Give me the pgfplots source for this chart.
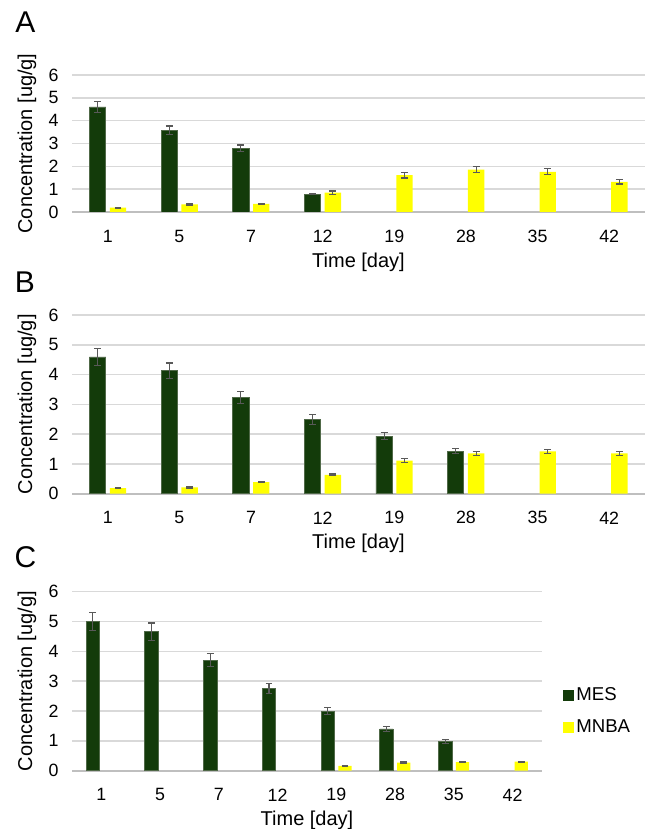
\documentclass[border=0pt]{standalone}
\usepackage{pgfplots}
\pgfplotsset{compat=1.18}
\usepackage{fontspec}
\setmainfont{Liberation Sans}
\definecolor{mesgreen}{RGB}{19,59,10}
\definecolor{mesedge}{RGB}{80,105,72}
\definecolor{mnbayellow}{RGB}{255,255,0}
\definecolor{gridgray}{RGB}{217,217,217}
\definecolor{axisgray}{RGB}{191,191,191}
\definecolor{errgray}{RGB}{89,89,89}
\pgfplotsset{
  panel/.style={
    scale only axis,
    anchor=south west,
    /pgf/number format/assume math mode=true,
    xmin=-0.5, xmax=7.5, ymin=0, ymax=6,
    ytick={0,1,2,3,4,5,6},
    xtick={0,1,2,3,4,5,6,7},
    xticklabels={1,5,7,12,19,28,35,42},
    axis line style={draw=none},
    tick style={draw=none},
    ymajorgrids,
    grid style={gridgray, line width=0.75pt},
    extra y ticks={0},
    extra y tick labels={},
    extra y tick style={grid style={axisgray, line width=1pt}},
    tick label style={font=\fontsize{8.9}{10}\selectfont},
    yticklabel style={anchor=east, inner sep=0pt, xshift=-6.5pt},
    xticklabel style={anchor=center, inner sep=0pt, yshift=-7.8pt},
    ylabel={Concentration [ug/g]},
    xlabel={Time [day]},
    label style={font=\fontsize{9.7}{11}\selectfont},
    every axis x label/.style={at={([yshift=-25pt]rel axis cs:0.5,0)}, anchor=center},
    ybar,
    error bars/error bar style={errgray, line width=0.6pt},
    error bars/error mark options={rotate=90, mark size=1.7pt, errgray, line width=0.6pt},
  },
  mes/.style={fill=mesgreen, draw=mesedge, line width=0.4pt,
    error bars/y dir=both, error bars/y explicit},
  mnba/.style={fill=mnbayellow, draw=none,
    error bars/y dir=both, error bars/y explicit},
}
\begin{document}
\begin{tikzpicture}
\useasboundingbox (0,0) rectangle (325pt,414.5pt);
\node[font=\fontsize{15}{18}\selectfont] at (12.75pt,403.25pt) {A};
\node[font=\fontsize{15}{18}\selectfont] at (12.5pt,273.25pt) {B};
\node[font=\fontsize{15}{18}\selectfont] at (12.75pt,135.75pt) {C};

% Panel A
\begin{axis}[panel, at={(36pt,308.5pt)}, width=286.5pt, height=68.5pt,
  bar width=8.15pt,
  every axis y label/.style={at={([xshift=-22.5pt]rel axis cs:0,0.5)}, anchor=center, rotate=90}]
\addplot[mes, bar shift=-5.1pt] coordinates {
 (0,4.60) +- (0,0.24)
 (1,3.58) +- (0,0.19)
 (2,2.79) +- (0,0.14)
 (3,0.78) +- (0,0.03)
};
\addplot[mnba, bar shift=5.1pt] coordinates {
 (0,0.19) +- (0,0.02)
 (1,0.33) +- (0,0.02)
 (2,0.35) +- (0,0.02)
 (3,0.85) +- (0,0.07)
 (4,1.61) +- (0,0.12)
 (5,1.86) +- (0,0.14)
 (6,1.76) +- (0,0.13)
 (7,1.32) +- (0,0.09)
};
\end{axis}

% Panel B
\begin{axis}[panel, at={(36pt,167.65pt)}, width=286.5pt, height=89.35pt,
  bar width=8.15pt,
  every axis y label/.style={at={([xshift=-22.5pt]rel axis cs:0,0.5)}, anchor=center, rotate=90}]
\addplot[mes, bar shift=-5.1pt] coordinates {
 (0,4.59) +- (0,0.28)
 (1,4.13) +- (0,0.26)
 (2,3.22) +- (0,0.20)
 (3,2.49) +- (0,0.16)
 (4,1.93) +- (0,0.12)
 (5,1.43) +- (0,0.09)
};
\addplot[mnba, bar shift=5.1pt] coordinates {
 (0,0.19) +- (0,0.02)
 (1,0.21) +- (0,0.02)
 (2,0.39) +- (0,0.02)
 (3,0.63) +- (0,0.03)
 (4,1.11) +- (0,0.06)
 (5,1.35) +- (0,0.07)
 (6,1.42) +- (0,0.07)
 (7,1.35) +- (0,0.06)
};
\end{axis}

% Panel C
\begin{axis}[panel, at={(36pt,29.15pt)}, width=235pt, height=89.5pt,
  bar width=6.67pt,
  every axis y label/.style={at={([xshift=-22.5pt]rel axis cs:0,0.5)}, anchor=center, rotate=90},
  legend style={draw=none, fill=none, at={([xshift=10.5pt]rel axis cs:1,0.331)}, anchor=west,
    font=\fontsize{9.3}{11}\selectfont, row sep=6pt, inner sep=0pt,
    nodes={inner sep=1pt}},
  legend cell align=left,
  legend image code/.code={\fill[#1, draw=none] (0pt,-2.75pt) rectangle (5.5pt,2.75pt);}]
\addplot[mes, bar shift=-4.3pt] coordinates {
 (0,5.00) +- (0,0.31)
 (1,4.66) +- (0,0.29)
 (2,3.70) +- (0,0.22)
 (3,2.76) +- (0,0.17)
 (4,2.00) +- (0,0.12)
 (5,1.40) +- (0,0.09)
 (6,0.98) +- (0,0.07)
};
\addlegendentry{MES}
\addplot[mnba, bar shift=4.3pt] coordinates {
 (4,0.16) +- (0,0.02)
 (5,0.27) +- (0,0.02)
 (6,0.29) +- (0,0.02)
 (7,0.30) +- (0,0.02)
};
\addlegendentry{MNBA}
\end{axis}
\end{tikzpicture}
\end{document}
